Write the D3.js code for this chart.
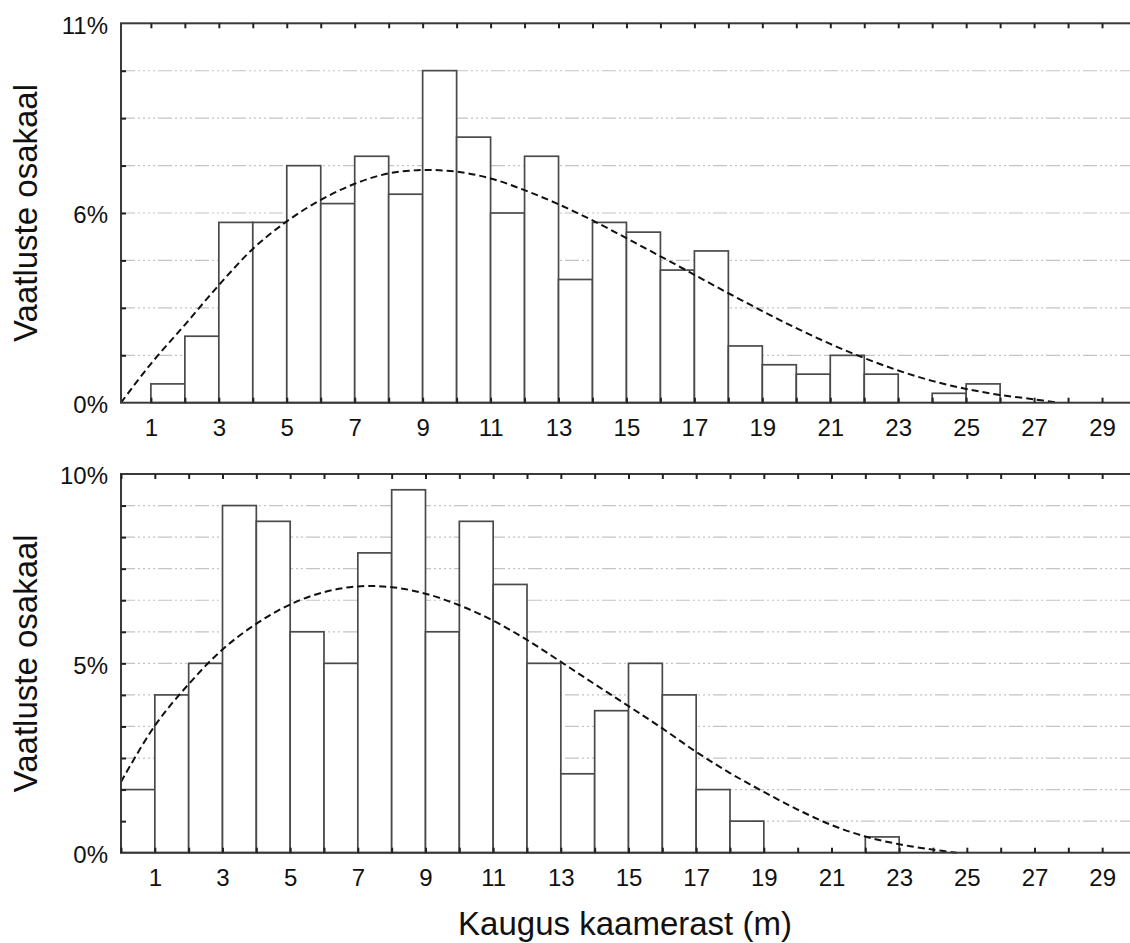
<!DOCTYPE html>
<html>
<head>
<meta charset="utf-8">
<script src="https://cdn.jsdelivr.net/npm/d3@7"></script>
<style>
  html, body { margin: 0; padding: 0; background: #fff; }
  svg { display: block; font-family: "Liberation Sans", Arial, sans-serif; }
</style>
</head>
<body>
<svg id="chart" width="1130" height="943"></svg>
<script>
// ---------- data ----------
const xTickLabels = [1, 3, 5, 7, 9, 11, 13, 15, 17, 19, 21, 23, 25, 27, 29];

// Top histogram (percent of observations per 1 m bin, bin start in m)
const topBinStart = [1, 2, 3, 4, 5, 6, 7, 8, 9, 10, 11, 12, 13, 14, 15, 16, 17, 18, 19, 20, 21, 22, 23, 24, 25];
const topPct = [0.56, 1.98, 5.37, 5.37, 7.06, 5.93, 7.34, 6.21, 9.89, 7.91, 5.65, 7.34, 3.67, 5.37, 5.08, 3.95, 4.52, 1.69, 1.13, 0.85, 1.41, 0.85, 0, 0.28, 0.56];
const topCurveX = [0.12, 1, 2, 3, 4, 5, 6, 7, 8, 9, 10, 11, 12, 13, 14, 15, 16, 17, 18, 19, 20, 21, 22, 23, 24, 25, 26, 27, 27.7];
const topCurveY = [0, 1.16, 2.32, 3.50, 4.58, 5.40, 6.04, 6.52, 6.83, 6.93, 6.88, 6.68, 6.33, 5.91, 5.43, 4.90, 4.36, 3.81, 3.26, 2.73, 2.22, 1.75, 1.33, 0.96, 0.65, 0.41, 0.23, 0.10, 0];
const topYTicks = [0, 5.65, 11.3];
const topYTickLabels = ["0%", "6%", "11%"];

// Bottom histogram
const bottomBinStart = [0, 1, 2, 3, 4, 5, 6, 7, 8, 9, 10, 11, 12, 13, 14, 15, 16, 17, 18, 19, 20, 21, 22];
const bottomPct = [1.64, 4.10, 4.92, 9.02, 8.61, 5.74, 4.92, 7.79, 9.43, 5.74, 8.61, 6.97, 4.92, 2.05, 3.69, 4.92, 4.10, 1.64, 0.82, 0, 0, 0, 0.41];
const bottomCurveX = [0, 1, 2, 3, 4, 5, 6, 7, 8, 9, 10, 11, 12, 13, 14, 15, 16, 17, 18, 19, 20, 21, 22, 23, 24, 24.7];
const bottomCurveY = [1.84, 3.30, 4.38, 5.28, 5.95, 6.45, 6.77, 6.92, 6.90, 6.73, 6.43, 6.03, 5.53, 4.96, 4.38, 3.81, 3.23, 2.62, 2.07, 1.58, 1.12, 0.72, 0.42, 0.22, 0.08, 0];
const bottomYTicks = [0, 4.92, 9.84];
const bottomYTickLabels = ["0%", "5%", "10%"];

const yTitle = "Vaatluste osakaal";
const xTitle = "Kaugus kaamerast (m)";

// ---------- drawing ----------
const svg = d3.select("#chart");

function panel(cfg) {
  const g = svg.append("g");
  const x = d3.scaleLinear().domain(cfg.xDomain).range([cfg.left, cfg.right]);
  const y = d3.scaleLinear().domain([0, cfg.yMax]).range([cfg.bottom, cfg.top]);

  // gridlines
  const gridVals = d3.range(1, cfg.gridN).map(i => i * cfg.yMax / cfg.gridN);
  g.append("g").selectAll("line").data(gridVals).join("line")
    .attr("x1", cfg.left).attr("x2", cfg.right)
    .attr("y1", d => y(d)).attr("y2", d => y(d))
    .attr("stroke", "#c4c4c4").attr("stroke-width", 1.2)
    .attr("stroke-dasharray", "14,3,2,3,2,3,2,3,2,3");

  // bars
  g.append("g").selectAll("rect").data(cfg.bins.map((b, i) => ({ b, v: cfg.vals[i] })).filter(d => d.v > 0)).join("rect")
    .attr("x", d => x(d.b)).attr("width", d => x(d.b + 1) - x(d.b))
    .attr("y", d => y(d.v)).attr("height", d => y(0) - y(d.v))
    .attr("fill", "#fff").attr("stroke", "#4a4a4a").attr("stroke-width", 1.7);

  // fitted curve
  const line = d3.line().x(d => x(d[0])).y(d => y(d[1])).curve(d3.curveCatmullRom.alpha(0.5));
  g.append("path").datum(cfg.cx.map((v, i) => [v, cfg.cy[i]]))
    .attr("d", line).attr("fill", "none").attr("stroke", "#111")
    .attr("stroke-width", 2).attr("stroke-dasharray", "7,4");

  // frame
  g.append("rect").attr("x", cfg.left).attr("y", cfg.top)
    .attr("width", cfg.right - cfg.left).attr("height", cfg.bottom - cfg.top)
    .attr("fill", "none").attr("stroke", "#3a3a3a").attr("stroke-width", 2);

  // x ticks (inside, bottom and top)
  const xt = d3.range(Math.ceil(cfg.xDomain[0]), Math.floor(cfg.xDomain[1]) + 1);
  const bottomAxis = d3.axisBottom(x).tickValues(xt).tickSizeInner(-5).tickSizeOuter(0).tickFormat(d => xTickLabels.includes(d) ? d : "");
  const ba = g.append("g").attr("transform", `translate(0,${cfg.bottom})`).call(bottomAxis);
  ba.select(".domain").remove();
  ba.selectAll(".tick line").attr("stroke", "#222").attr("stroke-width", 2);
  ba.selectAll(".tick text").attr("y", 16).attr("dy", "0.71em").attr("font-size", 24)
    .attr("font-family", "Liberation Sans, Arial, sans-serif").attr("fill", "#111");

  const topAxis = d3.axisTop(x).tickValues(xt).tickSizeInner(-5).tickSizeOuter(0).tickFormat("");
  const ta = g.append("g").attr("transform", `translate(0,${cfg.top})`).call(topAxis);
  ta.select(".domain").remove();
  ta.selectAll(".tick line").attr("stroke", "#222").attr("stroke-width", 2);

  // y ticks (inside, at gridlines) and labels
  const yAxis = d3.axisLeft(y).tickValues(gridVals).tickSizeInner(-5).tickSizeOuter(0).tickFormat("");
  const ya = g.append("g").attr("transform", `translate(${cfg.left},0)`).call(yAxis);
  ya.select(".domain").remove();
  ya.selectAll(".tick line").attr("stroke", "#222").attr("stroke-width", 2);

  g.append("g").selectAll("text").data(cfg.yTicks).join("text")
    .attr("x", cfg.left - 13).attr("y", d => y(d) + 2)
    .attr("dy", "0.35em").attr("text-anchor", "end")
    .attr("font-size", 24).attr("fill", "#111")
    .text((d, i) => cfg.yTickLabels[i]);

  // y title
  g.append("text")
    .attr("transform", `translate(37,${(cfg.top + cfg.bottom) / 2}) rotate(-90)`)
    .attr("text-anchor", "middle").attr("font-size", 33).attr("fill", "#111")
    .text(yTitle);
}

panel({
  left: 121, right: 1136, top: 23.3, bottom: 402.7,
  xDomain: [0.12, 30], yMax: 11.3, gridN: 8,
  bins: topBinStart, vals: topPct, cx: topCurveX, cy: topCurveY,
  yTicks: topYTicks, yTickLabels: topYTickLabels
});

panel({
  left: 121, right: 1136, top: 474, bottom: 852.7,
  xDomain: [0, 30], yMax: 9.84, gridN: 12,
  bins: bottomBinStart, vals: bottomPct, cx: bottomCurveX, cy: bottomCurveY,
  yTicks: bottomYTicks, yTickLabels: bottomYTickLabels
});

svg.append("text")
  .attr("x", 625).attr("y", 935).attr("text-anchor", "middle")
  .attr("font-size", 33).attr("fill", "#111")
  .text(xTitle);
</script>
</body>
</html>
